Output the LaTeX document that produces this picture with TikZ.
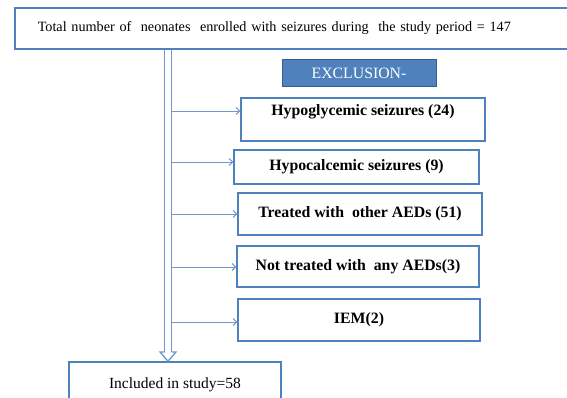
\documentclass[tikz,border=0pt]{standalone}
\usepackage{fontspec}
\setmainfont{Liberation Serif}
\usetikzlibrary{arrows.meta}
\definecolor{boxblue}{HTML}{4F81BD}
\definecolor{darkblue}{HTML}{385D8A}
\definecolor{lineblue}{HTML}{7096CC}
\tikzset{
  box/.style={draw=boxblue, line width=1.5pt, fill=white, inner sep=0pt, align=center,
    font=\fontsize{15.8}{17}\selectfont\bfseries},
  plainbox/.style={box, font=\fontsize{15.5}{17}\selectfont},
  thinarrow/.style={draw=lineblue, line width=0.9pt, -{Straight Barb[length=3.5pt,width=7pt]}},
  trunkline/.style={draw=lineblue, line width=1.3pt}
}
\begin{document}
\begin{tikzpicture}[x=1pt,y=-1pt]
\useasboundingbox (0,0) rectangle (567,398);
\node[plainbox, anchor=west, text width=540pt, align=left, inner xsep=23pt, minimum height=41pt,
  font=\fontsize{14.2}{17}\selectfont] (total) at (14,28.5)
  {\raisebox{-3pt}{Total number of \ neonates \ enrolled with seizures during \ the study period = 147}};
\node[draw=darkblue, fill=boxblue, line width=1pt, text=white, minimum width=154pt, minimum height=27pt,
  inner sep=0pt, font=\fontsize{15.8}{17}\selectfont] (excl) at (359,73.5) {EXCLUSION-};
\node[box, minimum width=244pt, minimum height=43pt] (hypog) at (363,119.5)
  {Hypoglycemic seizures (24)\\[1pt]\mbox{}};
\node[box, minimum width=245pt, minimum height=34pt] (hypoc) at (356.5,167) {\raisebox{-2pt}{Hypocalcemic seizures (9)}};
\node[box, minimum width=244pt, minimum height=42pt] (aed) at (360,214) {\raisebox{-1pt}{Treated with \ other AEDs (51)}};
\node[box, minimum width=242pt, minimum height=41pt] (noaed) at (358,266.5) {\raisebox{-1pt}{Not treated with \ any AEDs(3)}};
\node[box, minimum width=242pt, minimum height=42pt] (iem) at (359,320) {\raisebox{-1pt}{IEM(2)}};
\node[plainbox, minimum width=212pt, minimum height=72pt, text depth=29pt] (incl) at (175,398) {Included in study=58};
% trunk
\coordinate (trunk) at (168,0);
\coordinate (trunkend) at (168,352);
\draw[trunkline] ([xshift=-3.5pt]total.south -| trunk) -- ([xshift=-3.5pt]trunkend);
\draw[trunkline] ([xshift=3.5pt]total.south -| trunk) -- ([xshift=3.5pt]trunkend);
\draw[trunkline, fill=white, line join=miter]
  ([xshift=-3.5pt]trunkend) -- ([xshift=-8pt]trunkend) -- (trunkend |- incl.north) -- ([xshift=8pt]trunkend) -- ([xshift=3.5pt]trunkend);
% branch arrows
\coordinate (a1) at (172,111);
\coordinate (a2) at (172,162);
\coordinate (a3) at (172,214);
\coordinate (a4) at (172,267);
\coordinate (a5) at (172,322);
\draw[thinarrow] (a1) -- (hypog.west |- a1);
\draw[thinarrow] (a2) -- (hypoc.west |- a2);
\draw[thinarrow] (a3) -- (aed.west |- a3);
\draw[thinarrow] (a4) -- (noaed.west |- a4);
\draw[thinarrow] (a5) -- (iem.west |- a5);
\end{tikzpicture}
\end{document}
